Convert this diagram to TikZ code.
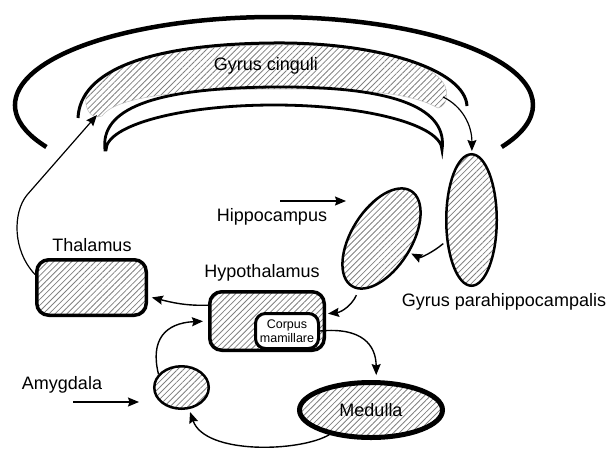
\documentclass[tikz,border=0pt]{standalone}
\usepackage{fontspec}
\setmainfont{Liberation Sans}
\usetikzlibrary{arrows.meta,patterns.meta,shapes.geometric}
\begin{document}
\begin{tikzpicture}[x=1pt,y=-1pt,
  hatch/.style={pattern={Lines[angle=45,distance=4.2pt,line width=0.8pt]},pattern color=black!50},
  lbl/.style={font=\fontsize{18}{21}\selectfont, inner sep=0pt},
  conn/.style={line width=1.4pt,-{Stealth[length=11pt,width=9pt,inset=1.5pt]}},
  boxnode/.style={draw,line width=3.5pt,rounded corners=12pt,hatch,inner sep=0pt},
  ovalnode/.style={draw,ellipse,line width=2.5pt,hatch,inner sep=0pt},
]
\useasboundingbox (0,0) rectangle (609,452);

% cingulate band (hatched)
\path[hatch,draw=gray!50,line width=0.5pt]
  (86,96) .. controls (100,62) and (170,46) .. (274,45)
  .. controls (380,44) and (435,64) .. (445,86)
  .. controls (449,96) and (446,106) .. (438,108)
  .. controls (412,94) and (375,89) .. (274,89)
  .. controls (170,90) and (115,98) .. (102,116)
  .. controls (92,120) and (84,110) .. (86,96) -- cycle;
\coordinate (cingL) at (97,115);
\coordinate (cingR) at (443,97);

% outer arc
\draw[line width=4.5pt] (46.4,147) arc[start angle=151.5, end angle=388.5, x radius=259, y radius=88];
% arc A
\draw[line width=3pt] (78,118) .. controls (80,70) and (150,44) .. (274,43)
  .. controls (380,42) and (465,70) .. (467,106);
% inner crescent B + C
\draw[line width=2.8pt] (105,150) .. controls (100,110) and (150,88) .. (274,87)
  .. controls (400,86) and (448,110) .. (442,150)
  arc[start angle=0, end angle=-180, x radius=168, y radius=45] -- cycle;

\node[lbl] (tcing) at (266,66) {Gyrus cinguli};

% nodes
\node[ovalnode, minimum width=50.5pt, minimum height=131.5pt] (gph) at (471.5,220) {};
\node[ovalnode, minimum width=112pt, minimum height=60pt, rotate=58] (hippo) at (381.5,238.5) {};
\node[ovalnode, minimum width=54.5pt, minimum height=42.5pt] (amyg) at (181.5,387.5) {};
\node[ovalnode, line width=5pt, minimum width=143pt, minimum height=55pt, font=\fontsize{18}{21}\selectfont] (medulla) at (371,410) {Medulla};
\node[boxnode, minimum width=109.5pt, minimum height=55.5pt] (thal) at (91.5,287.5) {};
\node[boxnode, minimum width=114.5pt, minimum height=58.5pt] (hypo) at (267,321) {};
\node[draw, fill=white, line width=3pt, rounded corners=10pt, minimum width=63pt, minimum height=35pt, inner sep=0pt, align=center, font=\fontsize{12.5}{14.5}\selectfont] (corpus) at (287,331) {Corpus\\mamillare};

% labels
\node[lbl] (thallbl) at (92,245) {Thalamus};
\node[lbl] (hypolbl) at (262,273) {Hypothalamus};
\node[lbl] (hippolbl) at (272,217) {Hippocampus};
\node[lbl] (gphlbl) at (504,302) {Gyrus parahippocampalis};
\node[lbl] (amyglbl) at (62,385) {Amygdala};

\coordinate (hipS) at (280,201);
\coordinate (hipE) at (346,201);
\coordinate (amyS) at (73,402);
\coordinate (amyE) at (139,402);

% connectors
\draw[conn] (hipS) -- (hipE);
\draw[conn] (amyS) -- (amyE);
\draw[conn,line width=1.2pt] (thal.167) .. controls (12,250) and (13,212) .. (27,195) -- (cingL);
\draw[conn,line width=1.2pt,shorten >=2pt] (cingR) .. controls (462,106) and (472,125) .. (gph);
\draw[conn,shorten <=4pt,shorten >=2pt] (gph) .. controls (432,253) and (420,258) .. (hippo);
\draw[conn,shorten <=6pt,shorten >=2pt] (hippo) .. controls (352,305) and (342,312) .. (hypo);
\draw[conn,shorten >=4pt] (hypo.165) .. controls (185,306) and (170,302) .. (thal.-9);
\draw[conn,shorten >=5pt] (amyg.150) .. controls (150,340) and (165,323) .. (hypo.west);
\draw[conn,shorten >=5pt] (corpus.east) .. controls (362,327) and (376,345) .. (medulla.80);
\draw[conn,shorten >=3pt] (medulla) .. controls (300,452) and (205,455) .. (amyg);
\end{tikzpicture}
\end{document}
